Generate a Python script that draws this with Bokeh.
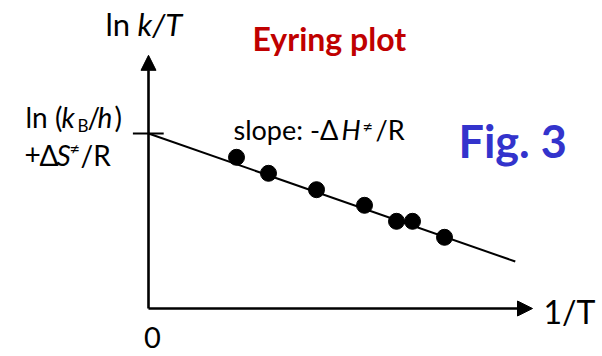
from bokeh.plotting import figure
from bokeh.models import Range1d, Arrow, NormalHead, Label
from bokeh.embed import file_html
from bokeh.resources import INLINE

# ---- data (arbitrary units, schematic Eyring plot) ----
inv_T = [2.2, 3.0, 4.2, 5.4, 6.2, 6.6, 7.4]
ln_k_over_T = [3.78, 3.38, 2.97, 2.58, 2.18, 2.18, 1.78]
intercept = 4.375          # ln(kB/h) + dS/R
slope = -0.349             # -dH/R
fit_x = [0.0, 9.17]
fit_y = [intercept + slope * x for x in fit_x]
x_axis_end = 9.6
y_axis_end = 6.33
tick_half = [-0.39, 0.38]

W, H = 602, 356
X0, Y0, S = 148, 308, 40.0   # pixel of the origin, pixels per unit

p = figure(width=W, height=H, output_backend="svg", toolbar_location=None,
           x_range=Range1d(-X0 / S, (W - X0) / S),
           y_range=Range1d((Y0 - H) / S, Y0 / S),
           x_axis_location=None, y_axis_location=None, min_border=0)
p.grid.visible = False
p.outline_line_color = None
p.background_fill_color = "white"
p.border_fill_color = "white"


def X(px):
    return (px - X0) / S


def Y(py):
    return (Y0 - py) / S


# axes with arrow heads
p.add_layout(Arrow(end=NormalHead(size=15, fill_color="black", line_color="black"),
                   x_start=0, y_start=0, x_end=0, y_end=y_axis_end,
                   line_width=2.6, line_color="black"))
p.add_layout(Arrow(end=NormalHead(size=15, fill_color="black", line_color="black"),
                   x_start=0, y_start=0, x_end=x_axis_end, y_end=0,
                   line_width=2.6, line_color="black"))

# intercept tick
p.segment(x0=[tick_half[0]], y0=[intercept], x1=[tick_half[1]], y1=[intercept],
          line_width=2, line_color="black")

# fit line and points
p.line(fit_x, fit_y, line_width=2, line_color="black")
p.scatter(inv_T, ln_k_over_T, size=16, color="black")

FONT = "Lato"
SHIFT = 0.32   # observed offset of the rendered baseline, in em


def lab(text, px, py, size, style="normal", color="black", align="left"):
    p.add_layout(Label(x=X(px), y=Y(py - SHIFT * size), text=text, text_font=FONT,
                       text_font_size=f"{size}px", text_font_style=style,
                       text_color=color, text_align=align,
                       text_baseline="alphabetic"))


# y-axis title
lab("ln", 105, 33, 31)
lab("k/T", 137, 33, 31, "italic")

# title
lab("Eyring plot", 252, 48, 32, "bold", "#c00000")

# intercept label
lab("ln (", 25, 125, 28)
lab("k", 61, 125, 28, "italic")
lab("B", 77, 130, 17)
lab("/", 87, 125, 28)
lab("h", 97, 125, 28, "italic")
lab(")", 114, 125, 28)
lab("+", 24, 163, 28)
lab("Δ", 39, 163, 28)
lab("S", 56, 163, 28, "italic")
lab("≠", 69, 153, 18)
lab("/R", 80, 163, 28)

# slope label
lab("slope: -Δ", 233, 138, 27)
lab("H", 341, 138, 27, "italic")
lab("≠", 362, 131, 18)
lab("/R", 375, 138, 27)

# figure tag
lab("Fig. 3", 458, 155, 45, "bold", "#3333cc")

# x-axis title and origin
lab("1/T", 543, 321, 32)
lab("0", 152, 346, 29, align="center")

open("out.html", "w").write(file_html(p, INLINE))
